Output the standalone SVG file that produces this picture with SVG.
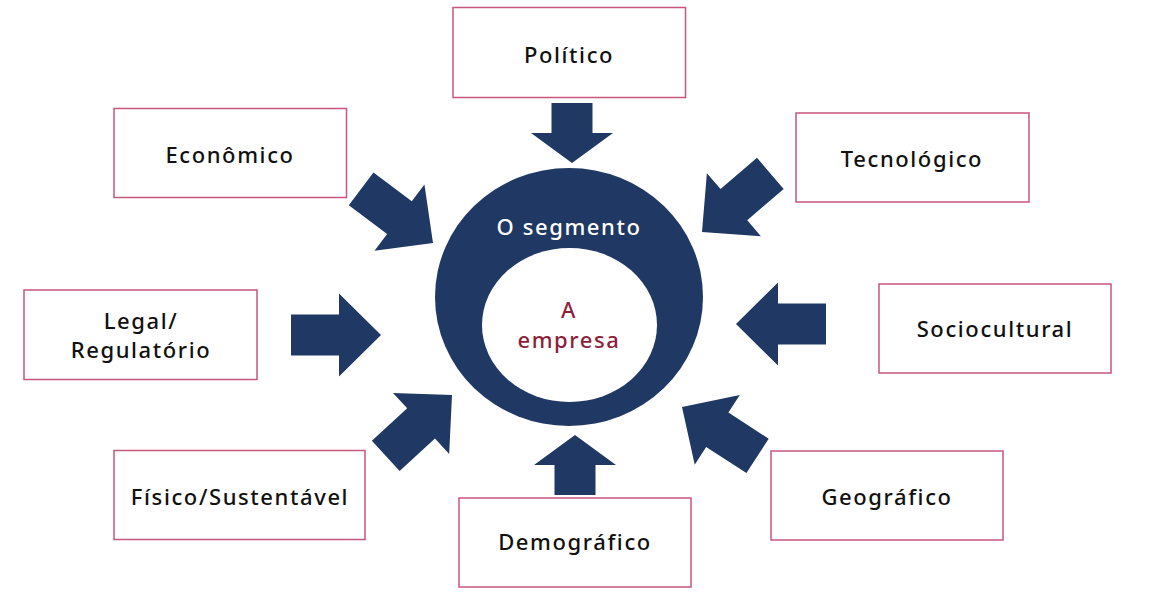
<svg xmlns="http://www.w3.org/2000/svg" width="1149" height="594" viewBox="0 0 1149 594">
<style>
.box{fill:#fff;stroke:#C9557A;stroke-width:1.5}
.lbl{font-family:"Noto Sans","Liberation Sans",sans-serif;font-size:22px;font-weight:500;fill:#111;text-anchor:middle;letter-spacing:1.6px}
.arr{fill:#203864}
.ctr{font-family:"Noto Sans","Liberation Sans",sans-serif;font-size:22px;font-weight:500;text-anchor:middle;letter-spacing:1.6px}
</style>
<defs>
<path id="longArrow" d="M0,0 L-42,-41.5 L-42,-20.5 L-90,-20.5 L-90,20.5 L-42,20.5 L-42,41.5 Z"/>
<path id="shortArrow" d="M0,0 L-30,-41 L-30,-20.5 L-60,-20.5 L-60,20.5 L-30,20.5 L-30,41 Z"/>
</defs>
<rect width="1149" height="594" fill="#fff"/>

<g id="center">
<ellipse cx="569" cy="297" rx="134" ry="129" fill="#203864"/>
<ellipse cx="569.5" cy="325" rx="87.5" ry="77" fill="#fff"/>
<text class="ctr" x="569" y="235" fill="#fff">O segmento</text>
<text class="ctr" x="569" y="318" fill="#8E1F3B">A</text>
<text class="ctr" x="569" y="348" fill="#8E1F3B">empresa</text>
</g>

<g id="connectors" class="arr">
<use href="#shortArrow" transform="translate(572,163) rotate(90)"/>
<use href="#shortArrow" transform="translate(575,435) rotate(-90)"/>
<use href="#longArrow" transform="translate(381,335)"/>
<use href="#longArrow" transform="translate(736,324) rotate(180)"/>
<use href="#longArrow" transform="translate(433,243) rotate(37)"/>
<use href="#longArrow" transform="translate(702,232) rotate(139.4)"/>
<use href="#longArrow" transform="translate(452,395) rotate(-42.6)"/>
<use href="#longArrow" transform="translate(682,407) rotate(212.9)"/>
</g>

<g id="politico">
<rect class="box" x="453" y="7.5" width="232.5" height="90"/>
<text class="lbl" x="569" y="63">Político</text>
</g>
<g id="economico">
<rect class="box" x="114" y="108.5" width="232.5" height="89"/>
<text class="lbl" x="230" y="163">Econômico</text>
</g>
<g id="tecnologico">
<rect class="box" x="796" y="113" width="233" height="89"/>
<text class="lbl" x="912" y="167">Tecnológico</text>
</g>
<g id="legal">
<rect class="box" x="24" y="290" width="233" height="89.5"/>
<text class="lbl" x="141" y="329">Legal/</text>
<text class="lbl" x="141" y="358">Regulatório</text>
</g>
<g id="sociocultural">
<rect class="box" x="879" y="284" width="232" height="89"/>
<text class="lbl" x="995" y="337">Sociocultural</text>
</g>
<g id="fisico">
<rect class="box" x="114" y="450.5" width="251" height="89"/>
<text class="lbl" x="240" y="505">Físico/Sustentável</text>
</g>
<g id="demografico">
<rect class="box" x="459" y="498" width="232" height="89"/>
<text class="lbl" x="575" y="550">Demográfico</text>
</g>
<g id="geografico">
<rect class="box" x="771" y="451" width="232" height="89"/>
<text class="lbl" x="887" y="505">Geográfico</text>
</g>
</svg>
